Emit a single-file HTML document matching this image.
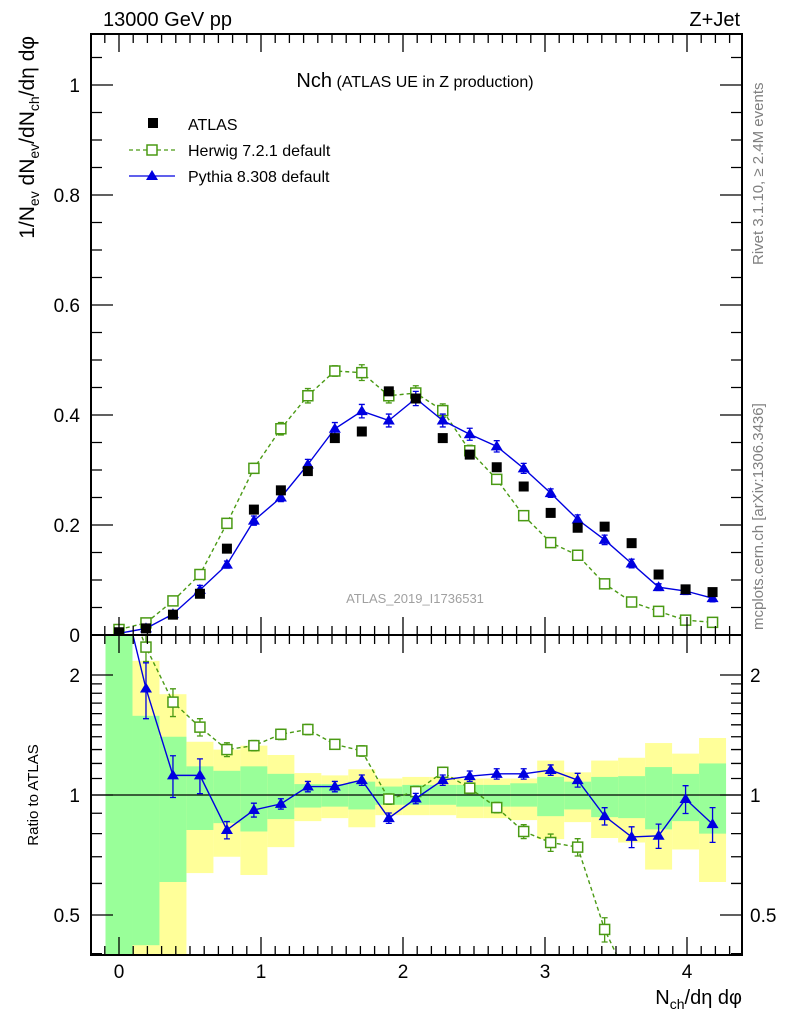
<!DOCTYPE html>
<html><head><meta charset="utf-8">
<style>
html,body{margin:0;padding:0;background:#fff;width:786px;height:1024px;overflow:hidden;}
svg{display:block;font-family:"Liberation Sans",sans-serif;}
</style></head>
<body>
<svg id="chart" width="786" height="1024" viewBox="0 0 786 1024" xmlns="http://www.w3.org/2000/svg">
<g id="bands"></g>
<g id="marks"></g>
<g id="axes"></g>
<text x="103" y="26" font-size="20">13000 GeV pp</text>
<text x="740" y="26" font-size="20" text-anchor="end">Z+Jet</text>
<text x="415" y="87" text-anchor="middle"><tspan font-size="20">Nch</tspan><tspan font-size="16"> (ATLAS UE in Z production)</tspan></text>
<g>
<rect x="148" y="118" width="10" height="10" fill="#000"/>
<text x="188" y="130" font-size="16">ATLAS</text>
<line x1="129" y1="150" x2="175" y2="150" stroke="#4a9a14" stroke-width="1.3" stroke-dasharray="4,3"/>
<rect x="147" y="145" width="10" height="10" fill="#fff" stroke="#4a9a14" stroke-width="1.5"/>
<text x="188" y="156" font-size="16">Herwig 7.2.1 default</text>
<line x1="129" y1="176" x2="175" y2="176" stroke="#0000e0" stroke-width="1.3"/>
<polygon points="152,170 146,180 158,180" fill="#0000e0"/>
<text x="188" y="182" font-size="16">Pythia 8.308 default</text>
</g>
<text x="415" y="603" font-size="13" fill="#a0a0a0" text-anchor="middle">ATLAS_2019_I1736531</text>
<text transform="translate(763,265) rotate(-90)" font-size="15" fill="#808080">Rivet 3.1.10, ≥ 2.4M events</text>
<text transform="translate(763,630) rotate(-90)" font-size="15" fill="#808080">mcplots.cern.ch [arXiv:1306.3436]</text>
<text transform="translate(34,36) rotate(-90)" font-size="21" text-anchor="end">1/N<tspan font-size="14" dy="5">ev</tspan><tspan dy="-5"> dN</tspan><tspan font-size="14" dy="5">ev</tspan><tspan dy="-5">/dN</tspan><tspan font-size="14" dy="5">ch</tspan><tspan dy="-5">/dη dφ</tspan></text>
<text transform="translate(38,795) rotate(-90)" font-size="15" text-anchor="middle">Ratio to ATLAS</text>
<text x="742" y="1004" font-size="20" text-anchor="end">N<tspan font-size="14" dy="5">ch</tspan><tspan dy="-5">/dη dφ</tspan></text>
</svg>
<script>
const xVals=[0,0.19,0.38,0.57,0.76,0.95,1.14,1.33,1.52,1.71,1.90,2.09,2.28,2.47,2.66,2.85,3.04,3.23,3.42,3.61,3.80,3.99,4.18];
const atlasVals=[0.005,0.012,0.037,0.075,0.157,0.228,0.263,0.298,0.358,0.370,0.443,0.430,0.358,0.328,0.305,0.270,0.222,0.195,0.197,0.167,0.110,0.083,0.078];
const herwigVals=[0.010,0.022,0.062,0.110,0.203,0.303,0.375,0.435,0.480,0.477,0.435,0.440,0.408,0.335,0.283,0.217,0.168,0.145,0.093,0.060,0.043,0.027,0.023];
const pythiaVals=[0.003,0.012,0.038,0.082,0.128,0.208,0.250,0.310,0.375,0.407,0.390,0.430,0.390,0.365,0.343,0.303,0.258,0.210,0.173,0.130,0.087,0.080,0.067];
const herwigRatio=[3.5,2.35,1.71,1.48,1.30,1.33,1.42,1.46,1.34,1.29,0.977,1.02,1.14,1.04,0.93,0.81,0.76,0.74,0.46,0.33,0.2,0.15,0.12];
const pythiaRatio=[3.5,1.85,1.12,1.12,0.817,0.917,0.95,1.05,1.05,1.09,0.875,0.98,1.09,1.115,1.13,1.13,1.155,1.09,0.885,0.785,0.79,0.977,0.845];
const herwigErr=[0.05,0.08,0.08,0.05,0.04,0.03,0.03,0.03,0.02,0.03,0.03,0.03,0.03,0.03,0.03,0.04,0.05,0.05,0.07,0.08,0.1,0.1,0.1];
const pythiaErr=[0.05,0.16,0.12,0.1,0.05,0.04,0.03,0.03,0.03,0.03,0.03,0.03,0.03,0.03,0.03,0.03,0.03,0.04,0.05,0.06,0.07,0.08,0.1];
const yellowHi=[3,2.17,1.79,1.36,1.30,1.33,1.26,1.135,1.12,1.16,1.10,1.11,1.11,1.10,1.10,1.10,1.22,1.14,1.22,1.24,1.35,1.27,1.39];
const greenHi=[3,1.58,1.40,1.18,1.15,1.18,1.13,1.065,1.065,1.08,1.05,1.06,1.06,1.06,1.06,1.07,1.11,1.08,1.11,1.115,1.175,1.13,1.2];
const greenLo=[0.3,0.42,0.605,0.817,0.85,0.81,0.87,0.93,0.935,0.92,0.945,0.945,0.945,0.935,0.935,0.935,0.885,0.92,0.88,0.875,0.82,0.86,0.80];
const yellowLo=[0.3,0.3,0.3,0.637,0.70,0.63,0.74,0.86,0.875,0.83,0.89,0.89,0.89,0.875,0.875,0.865,0.775,0.855,0.78,0.76,0.65,0.73,0.605];
const mainYTicks=[0,0.2,0.4,0.6,0.8,1];
const mainYLabels=["0","0.2","0.4","0.6","0.8","1"];
const ratioTicks=[0.5,1,2];
const ratioLabels=["0.5","1","2"];
const xTicks=[0,1,2,3,4];
const xLabels=["0","1","2","3","4"];

const NS="http://www.w3.org/2000/svg";
const L=91,R=742,T=34,MB=635,RB=955,BW=0.19;
const sx=v=>119+v*142;
const sy=v=>635-v*550;
const sr=v=>795-120*Math.log2(v);
function mk(tag,attrs,parent){const e=document.createElementNS(NS,tag);for(const k in attrs)e.setAttribute(k,attrs[k]);parent.appendChild(e);return e;}
const bands=document.getElementById('bands'),marks=document.getElementById('marks'),axes=document.getElementById('axes');
const clamp=y=>Math.min(RB,Math.max(MB,y));

xVals.forEach((x,i)=>{
  const x0=sx(x-BW/2),w=sx(x+BW/2)-x0;
  let y1=clamp(sr(yellowHi[i])),y2=clamp(sr(yellowLo[i]));
  let e=mk('rect',{x:x0,y:y1,width:w,height:y2-y1,fill:'#ffff99'},bands);
  
  
  y1=clamp(sr(greenHi[i]));y2=clamp(sr(greenLo[i]));
  e=mk('rect',{x:x0,y:y1,width:w,height:y2-y1,fill:'#99ff99'},bands);
  
  
});
let one=mk('line',{x1:L,x2:R,y1:sr(1),y2:sr(1),stroke:'#000','stroke-width':1.3},bands);



const defs=mk('defs',{},document.getElementById('chart'));
const c1=mk('clipPath',{id:'cm'},defs);mk('rect',{x:L,y:T,width:R-L,height:MB-T},c1);
const c2=mk('clipPath',{id:'cr'},defs);mk('rect',{x:L,y:MB,width:R-L,height:RB-MB},c2);
const gm=mk('g',{'clip-path':'url(#cm)'},marks);
const gr=mk('g',{'clip-path':'url(#cr)'},marks);

function series(g,vals,ys,err,color,dash,marker,name){
  const pts=vals.map((v,i)=>[sx(xVals[i]),ys(v)]);
  if(color){
    const pl=mk('polyline',{points:pts.map(p=>p.join(',')).join(' '),fill:'none',stroke:color,'stroke-width':1.4},g);
    if(dash)pl.setAttribute('stroke-dasharray',dash);
    
    
  }
  vals.forEach((v,i)=>{
    const [px,py]=pts[i];
    const e=err?err[i]:0;
    if(e){
      const a=ys(v*(1+e)),b=ys(v*(1-e));
      const eb=mk('path',{d:`M${px},${a}V${b}M${px-3},${a}h6M${px-3},${b}h6`,stroke:color,'stroke-width':1.3,fill:'none'},g);
      
      
    }
    let m;
    if(marker==='sq') m=mk('rect',{x:px-5,y:py-5,width:10,height:10,fill:'#000'},g);
    else if(marker==='osq') m=mk('rect',{x:px-5,y:py-5,width:10,height:10,fill:'#fff',stroke:color,'stroke-width':1.5},g);
    else m=mk('polygon',{points:`${px},${py-6} ${px-6},${py+4} ${px+6},${py+4}`,fill:color},g);
    
    
  });
}
series(gm,herwigVals,sy,herwigErr,'#4a9a14','4,3','osq','herwig');
series(gm,pythiaVals,sy,pythiaErr,'#0000e0',null,'tri','pythia');
series(gm,atlasVals,sy,null,null,null,'sq','atlas');
series(gr,herwigRatio,sr,herwigErr,'#4a9a14','4,3','osq','herwig-ratio');
series(gr,pythiaRatio,sr,pythiaErr,'#0000e0',null,'tri','pythia-ratio');

[[T,MB],[MB,RB]].forEach(([a,b],k)=>{
  const f=mk('rect',{x:L,y:a,width:R-L,height:b-a,fill:'none',stroke:'#000','stroke-width':2},axes);
  
  
});
let d='';
for(let i=-1;i<=46;i++){const v=i/10;const x=sx(v);if(x<L||x>R)continue;const maj=i%10===0;const len=maj?18:9;
  d+=`M${x},${T}v${len}M${x},${MB}v${-len}M${x},${MB}v${len}M${x},${RB}v${-len}`;}
for(let i=0;i<=21;i++){const v=i*0.05;const y=sy(v);if(y<T)continue;const maj=i%4===0;const len=maj?22:11;d+=`M${L},${y}h${len}M${R},${y}h${-len}`;}
const rmin=[0.4,0.6,0.7,0.8,0.9,1.1,1.2,1.3,1.4,1.5,1.6,1.7,1.8,1.9];
rmin.forEach(v=>{const y=sr(v);d+=`M${L},${y}h11M${R},${y}h-11`;});
ratioTicks.forEach(v=>{const y=sr(v);d+=`M${L},${y}h22M${R},${y}h-22`;});
const tk=mk('path',{d:d,stroke:'#000','stroke-width':1.3,fill:'none'},axes);


xTicks.forEach((v,i)=>{const t=mk('text',{x:sx(v),y:978,'font-size':19,'text-anchor':'middle'},axes);t.textContent=xLabels[i];
  
  });
mainYTicks.forEach((v,i)=>{const t=mk('text',{x:80,y:sy(v)+7,'font-size':19,'text-anchor':'end'},axes);t.textContent=mainYLabels[i];
  
  });
ratioTicks.forEach((v,i)=>{
  let t=mk('text',{x:80,y:sr(v)+7,'font-size':19,'text-anchor':'end'},axes);t.textContent=ratioLabels[i];
  
  
  t=mk('text',{x:750,y:sr(v)+7,'font-size':19},axes);t.textContent=ratioLabels[i];
  
  
});
</script>
</body></html>
